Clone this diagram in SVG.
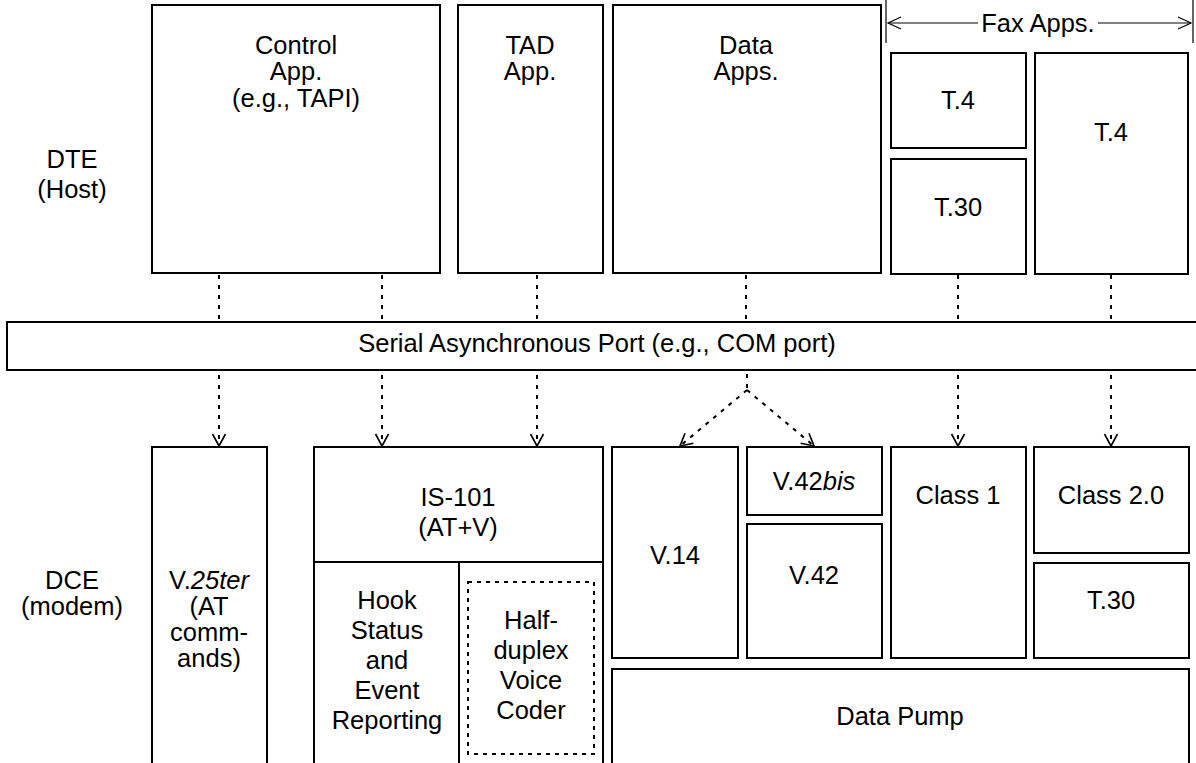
<svg xmlns="http://www.w3.org/2000/svg" width="1196" height="763" viewBox="0 0 1196 763">
<defs>
<style>
.b{fill:#fff;stroke:#000;stroke-width:2}
.t{font-family:"Liberation Sans",Arial,sans-serif;font-size:25.5px;fill:#000;text-anchor:middle}
.d{fill:none;stroke:#000;stroke-width:2;stroke-dasharray:4 6}
.dd{fill:none;stroke:#000;stroke-width:2;stroke-dasharray:4 5}
.th{fill:none;stroke:#000;stroke-width:1.2}
</style>
<marker id="ah" viewBox="-15 -9 17 18" markerWidth="17" markerHeight="18" refX="0" refY="0" orient="auto" markerUnits="userSpaceOnUse">
<path d="M-12,-6.5 L0,0 L-12,6.5" fill="none" stroke="#000" stroke-width="1.6"/>
</marker>
<marker id="fa" viewBox="-16 -8 18 16" markerWidth="18" markerHeight="16" refX="0" refY="0" orient="auto" markerUnits="userSpaceOnUse">
<path d="M-13,-6 L0,0 L-13,6" fill="none" stroke="#000" stroke-width="1.2"/>
</marker>
</defs>
<rect width="1196" height="763" fill="#fff"/>

<g id="labels">
<text class="t" x="72" y="168">DTE</text>
<text class="t" x="72" y="198">(Host)</text>
<text class="t" x="72" y="589">DCE</text>
<text class="t" x="72" y="615">(modem)</text>
</g>

<g id="control-app"><rect class="b" x="152" y="5" width="288" height="268"/>
<text class="t" x="296" y="54">Control</text><text class="t" x="296" y="80">App.</text><text class="t" x="296" y="107">(e.g., TAPI)</text></g>
<g id="tad-app"><rect class="b" x="458" y="5" width="145" height="268"/>
<text class="t" x="530" y="54">TAD</text><text class="t" x="530" y="80">App.</text></g>
<g id="data-apps"><rect class="b" x="613" y="5" width="268" height="268"/>
<text class="t" x="746" y="54">Data</text><text class="t" x="746" y="80">Apps.</text></g>

<g id="fax-apps">
<line class="th" x1="886" y1="0" x2="886" y2="43"/>
<line class="th" x1="1193" y1="0" x2="1193" y2="43"/>
<line class="th" x1="978" y1="23" x2="888" y2="23" marker-end="url(#fa)"/>
<line class="th" x1="1098" y1="23" x2="1191" y2="23" marker-end="url(#fa)"/>
<text class="t" x="1038" y="32">Fax Apps.</text>
</g>
<g id="t4-a"><rect class="b" x="891" y="53" width="135" height="95"/><text class="t" x="958" y="109">T.4</text></g>
<g id="t30-a"><rect class="b" x="891" y="159" width="135" height="115"/><text class="t" x="958" y="216">T.30</text></g>
<g id="t4-b"><rect class="b" x="1035" y="53" width="153" height="221"/><text class="t" x="1111" y="141">T.4</text></g>

<g id="serial-port"><rect class="b" x="7" y="322" width="1195" height="48"/>
<text class="t" x="597" y="352">Serial Asynchronous Port (e.g., COM port)</text></g>

<g id="v25ter"><rect class="b" x="152" y="447" width="115" height="330"/>
<text class="t" x="209" y="589">V.<tspan font-style="italic">25ter</tspan></text>
<text class="t" x="209" y="615">(AT</text><text class="t" x="209" y="641">comm-</text><text class="t" x="209" y="667">ands)</text></g>

<g id="is101"><rect class="b" x="314" y="447" width="289" height="115"/>
<text class="t" x="458" y="506">IS-101</text><text class="t" x="458" y="536">(AT+V)</text></g>
<g id="hook"><rect class="b" x="314" y="562" width="145" height="215"/>
<text class="t" x="387" y="609">Hook</text><text class="t" x="387" y="639">Status</text><text class="t" x="387" y="669">and</text><text class="t" x="387" y="699">Event</text><text class="t" x="387" y="729">Reporting</text></g>
<g id="voice-coder"><rect class="b" x="459" y="562" width="144" height="215"/>
<rect class="dd" x="468" y="582" width="126" height="172"/>
<text class="t" x="531" y="629">Half-</text><text class="t" x="531" y="659">duplex</text><text class="t" x="531" y="689">Voice</text><text class="t" x="531" y="719">Coder</text></g>

<g id="v14"><rect class="b" x="612" y="447" width="126" height="211"/><text class="t" x="675" y="564">V.14</text></g>
<g id="v42bis"><rect class="b" x="747" y="447" width="135" height="68"/><text class="t" x="814" y="490">V.42<tspan font-style="italic">bis</tspan></text></g>
<g id="v42"><rect class="b" x="747" y="524" width="135" height="134"/><text class="t" x="814" y="584">V.42</text></g>
<g id="class1"><rect class="b" x="891" y="447" width="135" height="211"/><text class="t" x="958" y="504">Class 1</text></g>
<g id="class20"><rect class="b" x="1034" y="447" width="155" height="106"/><text class="t" x="1111" y="504">Class 2.0</text></g>
<g id="t30-b"><rect class="b" x="1034" y="563" width="155" height="95"/><text class="t" x="1111" y="609">T.30</text></g>
<g id="data-pump"><rect class="b" x="612" y="669" width="577" height="110"/><text class="t" x="900" y="725">Data Pump</text></g>

<g id="connectors">
<line class="d" x1="219" y1="275" x2="219" y2="321"/>
<line class="d" x1="382" y1="275" x2="382" y2="321"/>
<line class="d" x1="537" y1="275" x2="537" y2="321"/>
<line class="d" x1="746" y1="275" x2="746" y2="321"/>
<line class="d" x1="958" y1="275" x2="958" y2="321"/>
<line class="d" x1="1111" y1="275" x2="1111" y2="321"/>
<line class="d" x1="219" y1="375" x2="219" y2="446" marker-end="url(#ah)"/>
<line class="d" x1="382" y1="375" x2="382" y2="446" marker-end="url(#ah)"/>
<line class="d" x1="537" y1="375" x2="537" y2="446" marker-end="url(#ah)"/>
<line class="d" x1="958" y1="375" x2="958" y2="446" marker-end="url(#ah)"/>
<line class="d" x1="1111" y1="375" x2="1111" y2="446" marker-end="url(#ah)"/>
<line class="d" x1="747" y1="374" x2="747" y2="389"/>
<line class="d" x1="747" y1="390" x2="680" y2="446" marker-end="url(#ah)"/>
<line class="d" x1="747" y1="390" x2="814" y2="446" marker-end="url(#ah)"/>
</g>
</svg>
